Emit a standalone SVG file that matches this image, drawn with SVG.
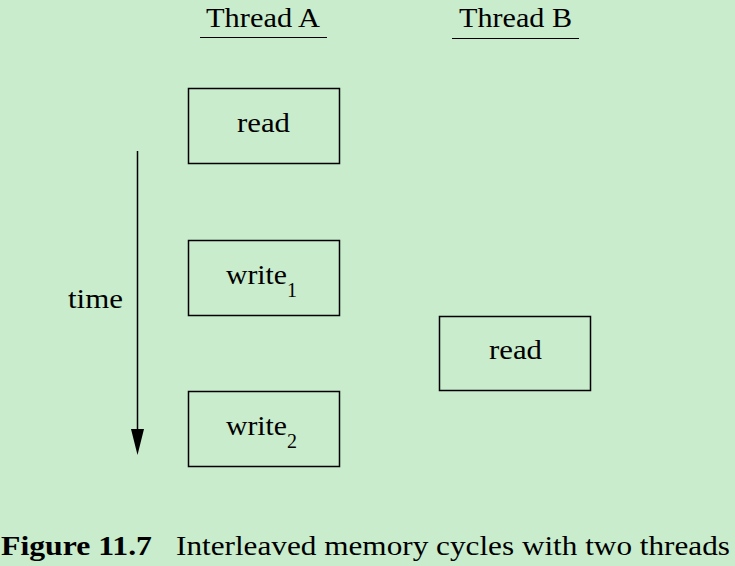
<svg xmlns="http://www.w3.org/2000/svg" width="735" height="566" viewBox="0 0 735 566">
<style>
text{font-family:"Liberation Serif","Times New Roman",serif;fill:#000;font-size:27px}
.box rect{fill:none;stroke:#000;stroke-width:1.5}
.sub{font-size:20px}
</style>
<rect width="735" height="566" fill="#C8ECCC"/>
<g id="header-a"><text x="206" y="27" textLength="114" lengthAdjust="spacingAndGlyphs">Thread A</text><line x1="200" y1="37.5" x2="327" y2="37.5" stroke="#000" stroke-width="1"/></g>
<g id="header-b"><text x="459" y="27" textLength="113" lengthAdjust="spacingAndGlyphs">Thread B</text><line x1="452" y1="38.5" x2="579" y2="38.5" stroke="#000" stroke-width="1"/></g>
<g id="a-read" class="box"><rect x="188.5" y="88.5" width="151" height="75"/><text x="237" y="132" textLength="53" lengthAdjust="spacingAndGlyphs">read</text></g>
<g id="a-write1" class="box"><rect x="188.5" y="240.5" width="151" height="75"/><text x="226" y="284"><tspan textLength="61" lengthAdjust="spacingAndGlyphs">write</tspan><tspan class="sub" dy="13">1</tspan></text></g>
<g id="a-write2" class="box"><rect x="188.5" y="391.5" width="151" height="75"/><text x="226" y="435"><tspan textLength="61" lengthAdjust="spacingAndGlyphs">write</tspan><tspan class="sub" dy="13">2</tspan></text></g>
<g id="b-read" class="box"><rect x="439.5" y="316.5" width="151" height="74"/><text x="489" y="359" textLength="53" lengthAdjust="spacingAndGlyphs">read</text></g>
<g id="time-label"><text x="68" y="308" textLength="55" lengthAdjust="spacingAndGlyphs">time</text></g>
<g id="connectors">
<line x1="137.5" y1="151" x2="137.5" y2="432" stroke="#000" stroke-width="1.5"/>
<path d="M131,429 L144,429 L137.5,455 Z" fill="#000"/>
</g>
<g id="caption"><text x="1" y="555" font-weight="bold" textLength="151" lengthAdjust="spacingAndGlyphs">Figure 11.7</text><text x="176" y="555" textLength="554" lengthAdjust="spacingAndGlyphs">Interleaved memory cycles with two threads</text></g>
</svg>
